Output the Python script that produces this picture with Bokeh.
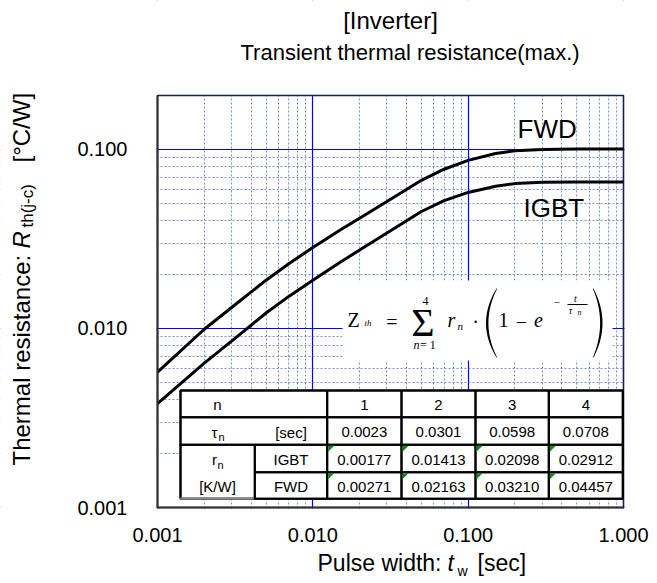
import math
from bokeh.plotting import figure
from bokeh.models import (FixedTicker, NumeralTickFormatter, Label, BoxAnnotation,
                          PolyAnnotation, Range1d)
from bokeh.embed import file_html
from bokeh.resources import INLINE

# ---------------- data ----------------
pulse_width = [0.001, 0.002, 0.003, 0.005, 0.007, 0.01, 0.015, 0.02, 0.03, 0.05,
               0.07, 0.1, 0.15, 0.2, 0.3, 0.5, 1.0]
zth_fwd = [0.0057, 0.0099, 0.0131, 0.0186, 0.0230, 0.0283, 0.0355, 0.0413, 0.0512,
           0.0672, 0.0775, 0.0868, 0.0948, 0.0982, 0.1000, 0.1005, 0.1005]
zth_igbt = [0.0038, 0.0064, 0.0085, 0.0122, 0.0151, 0.0186, 0.0234, 0.0274, 0.0341,
            0.0450, 0.0517, 0.0575, 0.0623, 0.0644, 0.0655, 0.0658, 0.0658]

x_major = [0.001, 0.01, 0.1, 1.0]
x_minor = [0.002, 0.003, 0.004, 0.005, 0.006, 0.007, 0.008, 0.009,
           0.02, 0.03, 0.04, 0.05, 0.06, 0.07, 0.08, 0.09,
           0.2, 0.3, 0.4, 0.5, 0.6, 0.7, 0.8, 0.9]
y_major = [0.001, 0.01, 0.1]
y_minor = [0.002, 0.003, 0.004, 0.005, 0.006, 0.007, 0.008, 0.009,
           0.02, 0.03, 0.04, 0.05, 0.06, 0.07, 0.08, 0.09]
x_limits = (0.001, 1.0)
y_limits = (0.001, 0.2)

n_index = ["1", "2", "3", "4"]
tau_n = ["0.0023", "0.0301", "0.0598", "0.0708"]
r_igbt = ["0.00177", "0.01413", "0.02098", "0.02912"]
r_fwd = ["0.00271", "0.02163", "0.03210", "0.04457"]

SANS = "Liberation Sans"
SERIF = "Liberation Serif"

# ---------------- geometry of the canvas (pixels) ----------------
W, H = 652, 580
BOX_L, BOX_R, BOX_T, BOX_B = 157, 623, 95, 507     # plot box inside the canvas
PX = (BOX_R - BOX_L) / (math.log10(x_limits[1]) - math.log10(x_limits[0]))
PY = (BOX_B - BOX_T) / (math.log10(y_limits[1]) - math.log10(y_limits[0]))
x_start = 10 ** (math.log10(x_limits[0]) - BOX_L / PX)
x_end = 10 ** (math.log10(x_limits[1]) + (W - BOX_R) / PX)
y_start = 10 ** (math.log10(y_limits[0]) - (H - BOX_B) / PY)
y_end = 10 ** (math.log10(y_limits[1]) + BOX_T / PY)

p = figure(width=W, height=H, x_axis_type="log", y_axis_type="log",
           x_range=Range1d(x_start, x_end), y_range=Range1d(y_start, y_end),
           output_backend="svg", toolbar_location=None,
           min_border_left=0, min_border_right=0, min_border_top=0,
           min_border_bottom=0)
p.background_fill_color = "white"
p.border_fill_color = "white"
p.outline_line_color = None

for ax, major, minor, standoff, loc, bnds in (
        (p.xaxis, x_major, x_minor, 14, y_limits[0], x_limits),
        (p.yaxis, y_major, y_minor, 24, x_limits[0], y_limits)):
    ax.ticker = FixedTicker(ticks=major, minor_ticks=minor)
    ax.formatter = NumeralTickFormatter(format="0.000")
    ax.fixed_location = loc
    ax.bounds = bnds
    ax.major_tick_line_color = None
    ax.minor_tick_line_color = None
    ax.axis_line_color = "#333333"
    ax.axis_line_width = 2
    ax.major_label_text_font = SANS
    ax.major_label_text_font_size = "20px"
    ax.major_label_text_color = "black"
    ax.major_label_standoff = standoff

p.xgrid.ticker = FixedTicker(ticks=x_major, minor_ticks=x_minor)
p.ygrid.ticker = FixedTicker(ticks=y_major, minor_ticks=y_minor)
p.xgrid.bounds = x_limits
p.ygrid.bounds = y_limits
for g in (p.xgrid, p.ygrid):
    g.grid_line_color = "#0000ff"
    g.grid_line_width = 1.2
    g.grid_line_alpha = 1
    g.minor_grid_line_color = "#4a6fc4"
    g.minor_grid_line_alpha = 0.75
    g.minor_grid_line_width = 1
    g.minor_grid_line_dash = "2 2"


# ---------------- helpers (canvas pixel coords -> screen units) ----------------
def lab(text, X, Y, size, font=SANS, style="normal", align="left",
        baseline="alphabetic", angle=0.0, color="black"):
    # alphabetic baselines are given; draw with a "middle" baseline instead
    if baseline == "alphabetic":
        if angle:
            X -= 0.35 * size
        else:
            Y -= 0.35 * size
        baseline = "middle"
    p.add_layout(Label(x=X, y=H - Y, x_units="screen", y_units="screen",
                       text=text, text_font=font, text_font_size=f"{size}px",
                       text_font_style=style, text_align=align,
                       text_baseline=baseline, angle=angle, text_color=color))


def box(X0, X1, Y0, Y1, fill="white", line=None, lw=2, level="annotation"):
    p.add_layout(BoxAnnotation(left=X0, right=X1, top=H - Y0, bottom=H - Y1,
                               left_units="screen", right_units="screen",
                               top_units="screen", bottom_units="screen",
                               fill_color=fill, fill_alpha=1 if fill else 0,
                               line_color=line, line_width=lw, line_alpha=1,
                               level=level))


def paren(X_mid, X_end, Y0, Y1, thick=2.4, thin=0.7, n=24):
    """Thin tall bracket drawn as a filled crescent (screen pixels)."""
    side = 1 if X_end > X_mid else -1
    outer, inner = [], []
    for k in range(n + 1):
        t = -1 + 2 * k / n
        y = (Y0 + Y1) / 2 + t * (Y1 - Y0) / 2
        xo = X_mid + (X_end - X_mid) * t * t
        w = thin + (thick - thin) * (1 - t * t)
        outer.append((xo, y))
        inner.append((xo + side * w, y))
    pts = outer + inner[::-1]
    p.add_layout(PolyAnnotation(xs=[q[0] for q in pts], ys=[H - q[1] for q in pts],
                                xs_units="screen", ys_units="screen",
                                fill_color="black", fill_alpha=1, line_color=None))


# white masks around the plot box (grid lines span the whole frame)
box(0, W, 0, BOX_T, level="underlay")
box(0, W, BOX_B + 1, H, level="underlay")
box(0, BOX_L - 1, 0, H, level="underlay")
box(BOX_R + 1, W, 0, H, level="underlay")
box(BOX_L, BOX_R, BOX_T, BOX_B, fill=None, line="#1c1c50", lw=1.5, level="underlay")

p.line(pulse_width, zth_fwd, line_color="black", line_width=3)
p.line(pulse_width, zth_igbt, line_color="black", line_width=3)

# ---------------- titles and axis labels ----------------
lab("[Inverter]", 390, 28, 24, align="center")
lab("Transient thermal resistance(max.)", 240, 60, 22)

lab("Pulse width:", 317, 571, 23)
lab("t", 447, 571, 23, style="italic")
lab("w", 457, 575, 14)
lab("[sec]", 477, 571, 23)

A = math.pi / 2
lab("Thermal resistance:", 29, 465, 24, angle=A)
lab("R", 29, 248, 24, style="italic", angle=A)
lab("th(j-c)", 33, 227, 17, angle=A)
lab("[°C/W]", 29, 162, 24, angle=A)

lab("FWD", 517, 138, 26)
lab("IGBT", 523, 217, 26)

# ---------------- formula ----------------
box(342, 612, 280, 360)
lab("Z", 347, 326, 20, font=SERIF)
lab("th", 364, 326, 9, font=SERIF, style="italic")
lab("=", 391.5, 321, 20, font=SERIF, align="center", baseline="middle")
lab("Σ", 422.5, 322, 40, font=SERIF, align="center", baseline="middle")
lab("4", 425, 305, 12, font=SERIF, align="center")
lab("n", 413, 349, 12, font=SERIF, style="italic")
lab("= 1", 419.5, 349, 12, font=SERIF)
lab("r", 447, 326, 20, font=SERIF, style="italic")
lab("n", 457, 329, 11, font=SERIF, style="italic")
lab("·", 475, 321, 20, font=SERIF, align="center", baseline="middle")
paren(485.5, 496, 288, 357)
lab("1", 503, 326, 20, font=SERIF, align="center")
lab("−", 521, 321, 20, font=SERIF, align="center", baseline="middle")
lab("e", 538, 326, 20, font=SERIF, style="italic", align="center")
lab("−", 556, 302, 11, font=SERIF, align="center", baseline="middle")
lab("t", 575, 301, 10, font=SERIF, style="italic", align="center")
box(567, 587, 303.5, 304.5, fill="black")
lab("τ", 570, 313, 10, font=SERIF, style="italic", align="center")
lab("n", 577, 315, 8, font=SERIF, style="italic")
paren(602, 593, 288, 357)

# ---------------- parameter table ----------------
rows = [390, 416.7, 444.3, 471.7, 498.3]
cols = [180, 254.3, 326.7, 401, 475, 548.3, 622.3]
box(cols[0], cols[-1], rows[0], rows[-1], fill="white", line="black")
box(cols[0], cols[2], rows[0], rows[1], fill=None, line="black")
box(cols[0], cols[2], rows[1], rows[2], fill=None, line="black")
box(cols[0], cols[1], rows[2], rows[4], fill=None, line="black")
box(cols[1], cols[2], rows[2], rows[3], fill=None, line="black")
box(cols[1], cols[2], rows[3], rows[4], fill=None, line="black")
for j in range(4):
    for i in range(4):
        box(cols[2 + j], cols[3 + j], rows[i], rows[i + 1], fill=None, line="black")
box(cols[0] - 1, cols[1] - 1, rows[4] - 1, rows[4] + 1, fill="#8a8a8a")


def cy(i):
    return (rows[i] + rows[i + 1]) / 2 + 1


TS = 15
lab("n", 217, cy(0), TS, align="center", baseline="middle")
lab("τ", 214, cy(1), TS, align="center", baseline="middle")
lab("n", 218, cy(1) + 5, 11, baseline="middle")
lab("[sec]", 290.5, cy(1), TS, align="center", baseline="middle")
lab("r", 214, cy(2), TS, align="center", baseline="middle")
lab("n", 217, cy(2) + 5, 11, baseline="middle")
lab("[K/W]", 217, cy(3), TS, align="center", baseline="middle")
lab("IGBT", 290.5, cy(2), TS, align="center", baseline="middle")
lab("FWD", 290.5, cy(3), TS, align="center", baseline="middle")

for j in range(4):
    cx = (cols[2 + j] + cols[3 + j]) / 2
    lab(n_index[j], cx, cy(0), TS, align="center", baseline="middle")
    lab(tau_n[j], cx, cy(1), TS, align="center", baseline="middle")
    lab(r_igbt[j], cx, cy(2), TS, align="center", baseline="middle")
    lab(r_fwd[j], cx, cy(3), TS, align="center", baseline="middle")
    for i in (2, 3):
        X0, Y0 = cols[2 + j] + 1, rows[i] + 1
        p.add_layout(PolyAnnotation(xs=[X0, X0 + 6, X0],
                                    ys=[H - Y0, H - Y0, H - Y0 - 6],
                                    xs_units="screen", ys_units="screen",
                                    fill_color="#118811", fill_alpha=1,
                                    line_color=None))

open("out.html", "w").write(file_html(p, INLINE))
